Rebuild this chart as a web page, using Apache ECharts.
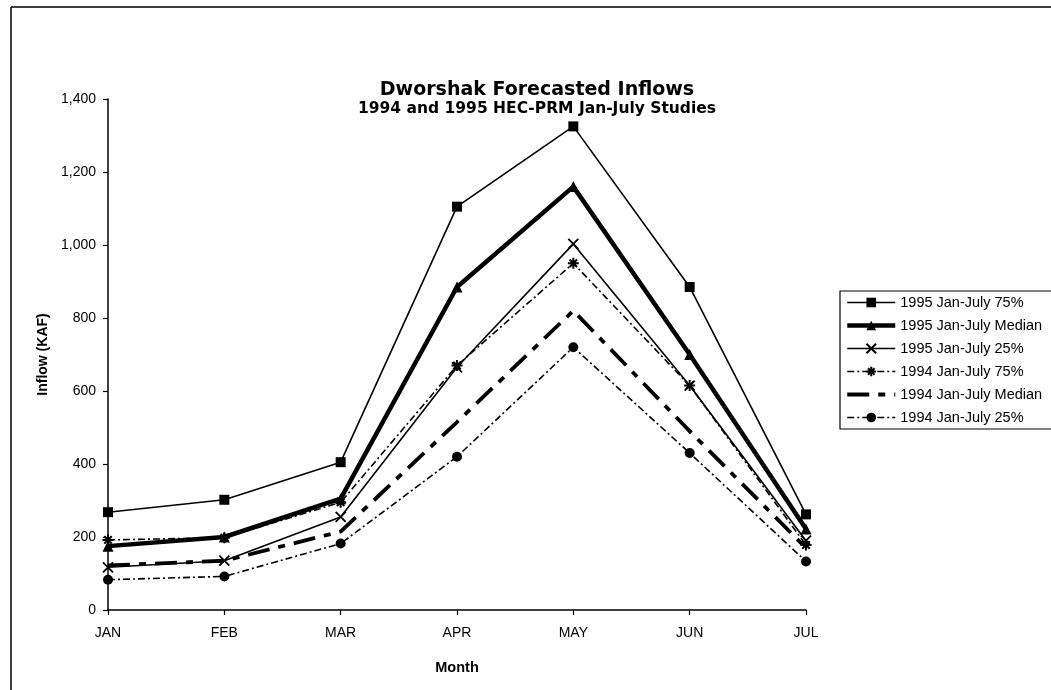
<!DOCTYPE html>
<html>
<head>
<meta charset="utf-8">
<script src="https://cdn.jsdelivr.net/npm/echarts@6/dist/echarts.min.js"></script>
<style>
html,body{margin:0;padding:0;background:#fff;}
#chart{width:1051px;height:690px;}
</style>
</head>
<body>
<div id="chart"></div>
<script>
const months = ['JAN','FEB','MAR','APR','MAY','JUN','JUL'];
const s95_75 = [268, 302, 405, 1105, 1325, 885, 262];
const s95_med = [175, 200, 305, 885, 1160, 700, 222];
const s95_25 = [117, 135, 255, 665, 1003, 615, 190];
const s94_75 = [192, 198, 295, 670, 950, 615, 178];
const s94_med = [122, 135, 215, 515, 820, 490, 170];
const s94_25 = [83, 92, 182, 420, 720, 430, 133];
const seriesNames = ['1995 Jan-July 75%','1995 Jan-July Median','1995 Jan-July 25%','1994 Jan-July 75%','1994 Jan-July Median','1994 Jan-July 25%'];
const yTicks = {min:0, max:1400, interval:200};

const FONT = "'Liberation Sans', Arial, sans-serif";
const WIDE = "'DejaVu Sans', 'Liberation Sans', sans-serif";
const chart = echarts.init(document.getElementById('chart'), null, {renderer:'canvas'});

const xPath = 'path://M0,0L10,10M10,0L0,10';
const starPath = 'path://M5,0L5,10M0,5L10,5M1.6,1.6L8.4,8.4M8.4,1.6L1.6,8.4';

const option = {
  backgroundColor:'#fff',
  animation:false,
  textStyle:{fontFamily:FONT, color:'#000'},
  graphic:[
    {type:'line', shape:{x1:11,y1:7,x2:1051,y2:7}, style:{stroke:'#000', lineWidth:1.5}},
    {type:'line', shape:{x1:11,y1:7,x2:11,y2:690}, style:{stroke:'#000', lineWidth:1.5}},
    {type:'text', x:537, y:90, style:{text:'Dworshak Forecasted Inflows', fontFamily:WIDE, fontWeight:'bold', fontSize:19, fill:'#000', textAlign:'center', textVerticalAlign:'middle'}},
    {type:'text', x:537, y:109, style:{text:'1994 and 1995 HEC-PRM Jan-July Studies', fontFamily:WIDE, fontWeight:'bold', fontSize:15.5, fill:'#000', textAlign:'center', textVerticalAlign:'middle'}}
  ],
  legend:{
    orient:'vertical', left:840, top:291,
    padding:[4,12,4,5],
    itemWidth:48, itemHeight:12, itemGap:8,
    borderColor:'#000', borderWidth:1.2, borderRadius:0,
    backgroundColor:'#fff',
    lineStyle:{width:'inherit', type:'inherit'},
    textStyle:{fontFamily:FONT, fontSize:14.5, color:'#000'},
    data:[
      {name:seriesNames[0]},
      {name:seriesNames[1]},
      {name:seriesNames[2]},
      {name:seriesNames[3]},
      {name:seriesNames[4], itemStyle:{opacity:0}},
      {name:seriesNames[5]}
    ]
  },
  grid:{left:108, right:245, top:99, bottom:80},
  xAxis:{
    type:'category', data:months, boundaryGap:false,
    name:'Month', nameLocation:'middle', nameGap:50,
    nameTextStyle:{fontFamily:FONT, fontWeight:'bold', fontSize:14.5, color:'#000'},
    axisLine:{lineStyle:{color:'#000', width:1.5}},
    axisTick:{show:true, length:5, lineStyle:{color:'#000', width:1.2}},
    axisLabel:{fontFamily:FONT, fontSize:14, color:'#000', margin:16},
    splitLine:{show:false}
  },
  yAxis:{
    type:'value', min:yTicks.min, max:yTicks.max, interval:yTicks.interval,
    name:'Inflow (KAF)', nameLocation:'middle', nameGap:56, nameRotate:90,
    nameTextStyle:{fontFamily:FONT, fontWeight:'bold', fontSize:14, color:'#000'},
    axisLine:{show:true, lineStyle:{color:'#000', width:1.5}},
    axisTick:{show:true, length:5, lineStyle:{color:'#000', width:1.2}},
    axisLabel:{fontFamily:FONT, fontSize:14, color:'#000', margin:12},
    splitLine:{show:false}
  },
  series:[
    {name:seriesNames[0], type:'line', data:s95_75, symbol:'rect', symbolSize:10,
     lineStyle:{color:'#000', width:1.6}, itemStyle:{color:'#000'}},
    {name:seriesNames[1], type:'line', data:s95_med, symbol:'triangle', symbolSize:11,
     lineStyle:{color:'#000', width:4.5}, itemStyle:{color:'#000'}},
    {name:seriesNames[2], type:'line', data:s95_25, symbol:xPath, symbolSize:10,
     lineStyle:{color:'#000', width:1.6}, itemStyle:{color:'#000', borderColor:'#000', borderWidth:1.8}},
    {name:seriesNames[3], type:'line', data:s94_75, symbol:starPath, symbolSize:11,
     lineStyle:{color:'#000', width:1.6, type:[7,3,2,3]}, itemStyle:{color:'#000', borderColor:'#000', borderWidth:2}},
    {name:seriesNames[4], type:'line', data:s94_med, symbol:'none',
     lineStyle:{color:'#000', width:3.8, type:[22,9,7,9]}, itemStyle:{color:'#000'}},
    {name:seriesNames[5], type:'line', data:s94_25, symbol:'circle', symbolSize:10,
     lineStyle:{color:'#000', width:1.6, type:[7,3,2,3]}, itemStyle:{color:'#000'}}
  ]
};
chart.setOption(option);
</script>
</body>
</html>
